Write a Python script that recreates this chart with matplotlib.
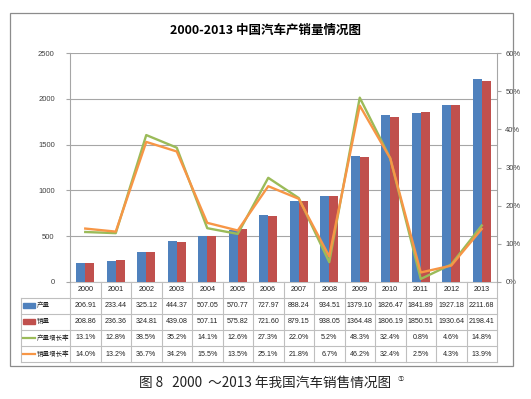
import matplotlib
matplotlib.use("Agg")
import matplotlib.pyplot as plt
from matplotlib.patches import Rectangle
from matplotlib.lines import Line2D
from matplotlib.ticker import PercentFormatter

years = [str(y) for y in range(2000, 2014)]
production = [206.91, 233.44, 325.12, 444.37, 507.05, 570.77, 727.97, 888.24,
              934.51, 1379.10, 1826.47, 1841.89, 1927.18, 2211.68]
sales = [208.86, 236.36, 324.81, 439.08, 507.11, 575.82, 721.60, 879.15,
         938.05, 1364.48, 1806.19, 1850.51, 1930.64, 2198.41]
prod_growth = [13.1, 12.8, 38.5, 35.2, 14.1, 12.6, 27.3, 22.0, 5.2, 48.3, 32.4, 0.8, 4.6, 14.8]
sales_growth = [14.0, 13.2, 36.7, 34.2, 15.5, 13.5, 25.1, 21.8, 6.7, 46.2, 32.4, 2.5, 4.3, 13.9]
row_names = ["产量", "销量", "产量增长率", "销量增长率"]

FAM = ["Liberation Sans", "Noto Sans CJK SC", "DejaVu Sans"]
plt.rcParams['font.family'] = FAM

BLUE, RED, GREEN, ORANGE = "#4F81BD", "#C0504D", "#9BBB59", "#F79646"
W, H = 531, 399
fig = plt.figure(figsize=(W / 100, H / 100), dpi=100)

def fx(px):
    return px / W

def fy(py):
    return 1 - py / H

# outer frame
fig.add_artist(Rectangle((fx(10), fy(366)), fx(513) - fx(10), fy(13) - fy(366),
                         transform=fig.transFigure, fill=False, ec="#8C8C8C", lw=0.9))

L, R, T, B = 70, 497, 53, 282
ax = fig.add_axes([fx(L), fy(B), fx(R) - fx(L), fy(T) - fy(B)])
n = len(years)
x = list(range(n))
bw = 0.3
ax.bar([i - bw / 2 for i in x], production, width=bw, color=BLUE, zorder=3)
ax.bar([i + bw / 2 for i in x], sales, width=bw, color=RED, zorder=3)
ax.set_xlim(-0.5, n - 0.5)
ax.set_ylim(0, 2500)
ax.set_yticks(range(0, 2501, 500))
ax.grid(axis="y", color="#A6A6A6", lw=0.8, zorder=0)
ax.set_xticks([])
for s in ["top", "right", "bottom"]:
    ax.spines[s].set_visible(False)
ax.spines["left"].set_color("#A6A6A6")
ax.tick_params(axis="y", labelsize=5.5, colors="#A6A6A6", labelcolor="#404040",
               length=3, width=0.8, pad=8)

ax2 = ax.twinx()
ax2.plot(x, prod_growth, color=GREEN, lw=1.7, zorder=4)
ax2.plot(x, sales_growth, color=ORANGE, lw=1.7, zorder=4)
ax2.set_ylim(0, 60)
ax2.set_yticks(range(0, 61, 10))
ax2.yaxis.set_major_formatter(PercentFormatter(decimals=0))
for s in ["top", "left", "bottom"]:
    ax2.spines[s].set_visible(False)
ax2.spines["right"].set_color("#A6A6A6")
ax2.tick_params(axis="y", labelsize=5.5, colors="#A6A6A6", labelcolor="#404040",
                length=3, width=0.8, pad=3)

fig.text(0.5, fy(30), "2000-2013 中国汽车产销量情况图", ha="center", va="center",
         fontsize=9, fontweight="bold", family=["Noto Sans CJK SC", "DejaVu Sans"])

# data table below the plot
ah = B - T
aw = R - L

def ay(py):
    return (B - py) / ah

def axx(px):
    return (px - L) / aw

tr = ax.transAxes
grid_c = "#BFBFBF"
rows_y = [282, 297.5, 313.5, 329.5, 346, 362]
for i, yb in enumerate(rows_y):
    x0 = axx(70) if i == 0 else axx(21)
    ax.add_line(Line2D([x0, 1], [ay(yb), ay(yb)], transform=tr, color=grid_c, lw=0.8, clip_on=False))
for k in range(n + 1):
    xv = k / n
    ax.add_line(Line2D([xv, xv], [ay(282), ay(362)], transform=tr, color=grid_c, lw=0.8, clip_on=False))
ax.add_line(Line2D([axx(21), axx(21)], [ay(297.5), ay(362)], transform=tr, color=grid_c, lw=0.8,
                   clip_on=False))

centers = [(rows_y[i] + rows_y[i + 1]) / 2 for i in range(5)]
for k, yr in enumerate(years):
    ax.text((k + 0.5) / n, ay(centers[0]), yr, transform=tr, ha="center", va="center",
            fontsize=5.2, color="#222222")
table_rows = [
    ["%.2f" % v for v in production],
    ["%.2f" % v for v in sales],
    ["%.1f%%" % v for v in prod_growth],
    ["%.1f%%" % v for v in sales_growth],
]
for r, vals in enumerate(table_rows):
    yc = ay(centers[r + 1])
    for k, s in enumerate(vals):
        ax.text((k + 0.5) / n, yc, s, transform=tr, ha="center", va="center",
                fontsize=5.1, color="#222222")

# row labels with legend keys
keys = [("rect", BLUE), ("rect", RED), ("line", GREEN), ("line", ORANGE)]
for r, (kind, col) in enumerate(keys):
    yc = ay(centers[r + 1])
    if kind == "rect":
        ax.add_patch(Rectangle((axx(23), yc - 2.5 / ah), axx(35) - axx(23), 5 / ah, transform=tr,
                               color=col, clip_on=False))
    else:
        ax.add_line(Line2D([axx(23), axx(35)], [yc, yc], transform=tr, color=col, lw=1.6,
                           clip_on=False))
    ax.text(axx(37), yc, row_names[r], transform=tr, ha="left", va="center", fontsize=4.7,
            family=["Noto Sans CJK SC"], color="#222222")

fig.text(0.5, fy(383), "图 8   2000  ～2013 年我国汽车销售情况图", ha="center", va="center",
         fontsize=9.8, family=["Noto Sans CJK SC", "DejaVu Sans"], color="#222222")
fig.text(fx(398), fy(379), "①", ha="left", va="center", fontsize=4.5,
         family=["Noto Sans CJK SC", "DejaVu Sans"], color="#222222")

fig.savefig("out.png", dpi=100)
